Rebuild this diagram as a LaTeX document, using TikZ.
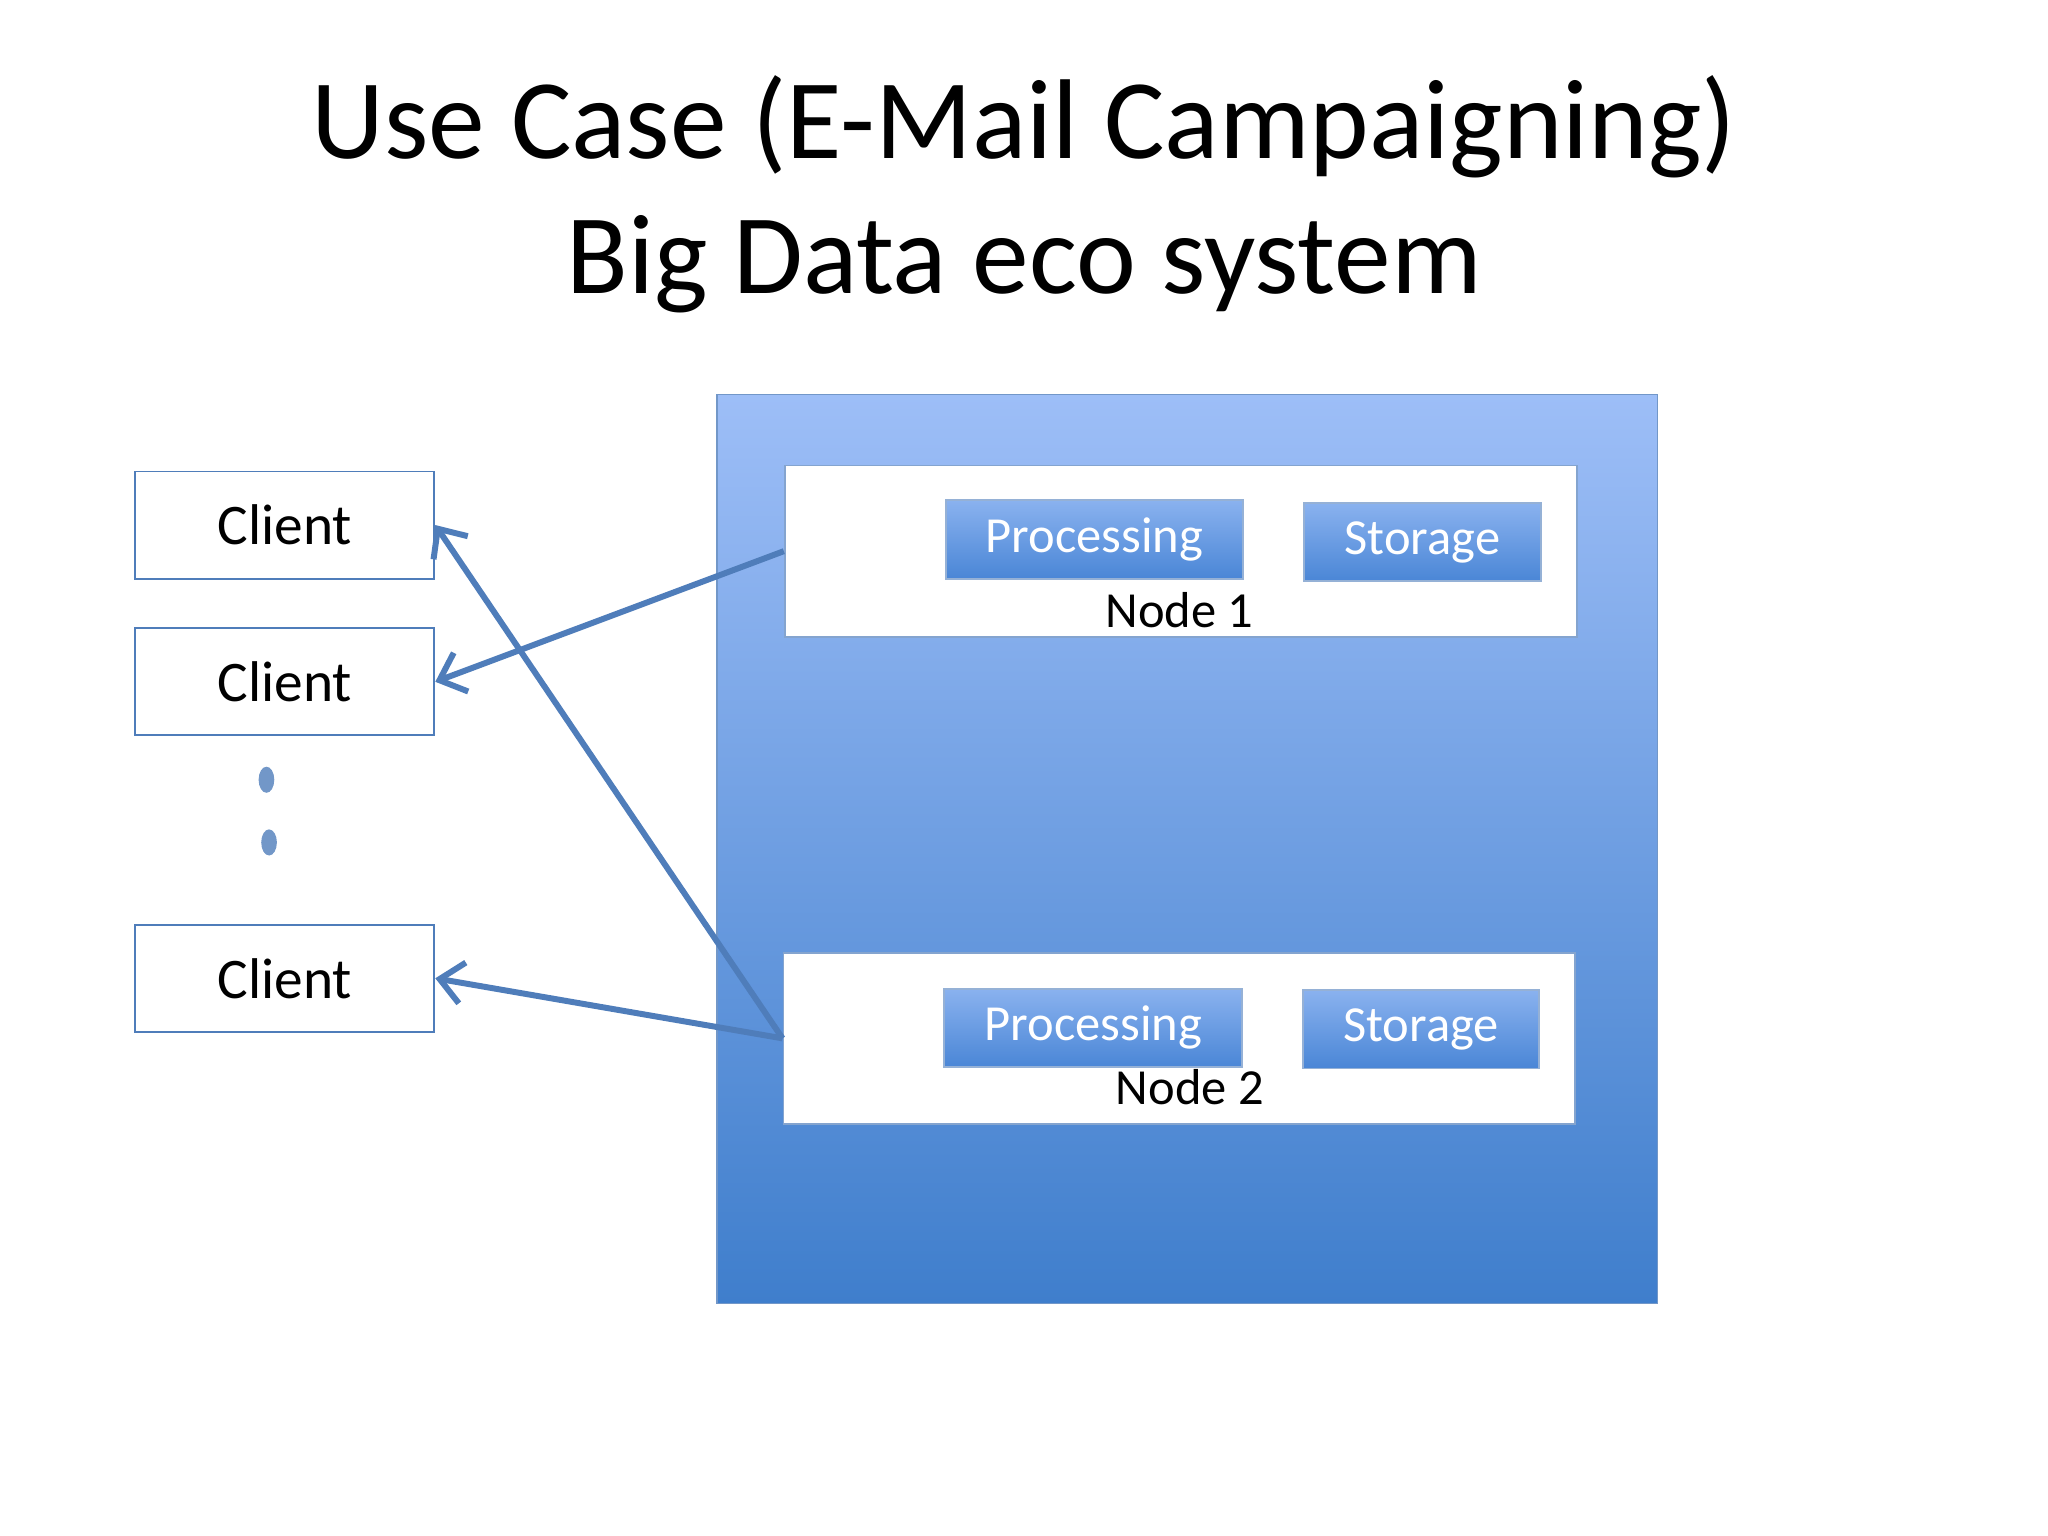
\documentclass[tikz,border=0pt]{standalone}
\usepackage{fontspec}
\setmainfont{Carlito}
\usetikzlibrary{positioning,arrows.meta}
\definecolor{edgeblue}{HTML}{4F7DBA}
\definecolor{boxtop}{HTML}{9DBEF7}
\definecolor{boxbot}{HTML}{3F7ECC}
\definecolor{btntop}{HTML}{8AB2EF}
\definecolor{btnbot}{HTML}{4A86D6}
\tikzset{
  client/.style={draw=edgeblue, fill=white, minimum width=2.29cm, minimum height=0.82cm, font=\fontsize{12.5}{12.5}\selectfont},
  host/.style={draw=edgeblue!70, fill=white, minimum width=6.06cm, minimum height=1.31cm},
  part/.style={draw=edgeblue!60, top color=btntop, bottom color=btnbot, text=white, minimum height=0.6cm, font=\fontsize{11}{11}\selectfont},
  link/.style={edgeblue, line width=1.3pt, -{Straight Barb[length=5pt,width=9pt]}}
}
\begin{document}
\begin{tikzpicture}[x=0.01cm, y=-0.01cm]
\useasboundingbox (0,0) rectangle (1568,1176);
% Title
\node (title1) at (784,97) {\fontsize{24.7}{24.7}\selectfont Use Case (E-Mail Campaigning)};
\node (title2) at (784,202) {\fontsize{24.7}{24.7}\selectfont Big Data eco system};

% Cluster background
\shade[top color=boxtop, bottom color=boxbot, draw=edgeblue!80] (549,302) rectangle (1269,998);

% Node 1
\node[host] (host1) at (904,422) {};
\node[part, minimum width=2.27cm] (proc1) at (838,413) {Processing};
\node[part, minimum width=1.81cm] (stor1) at (1089,415) {Storage};
\node (lab1) at (903,467) {\fontsize{11}{11}\selectfont Node 1};

% Node 2
\node[host] (host2) at (903,795) {};
\node[part, minimum width=2.28cm] (proc2) at (837,787) {Processing};
\node[part, minimum width=1.81cm] (stor2) at (1088,788) {Storage};
\node (lab2) at (911,832) {\fontsize{11}{11}\selectfont Node 2};

% Clients
\node[client] (cl1) at (218,402) {Client};
\node[client] (cl2) at (218,522) {Client};
\node[client] (cl3) at (218,749) {Client};
\fill[edgeblue!80] (204,597) ellipse (6 and 10);
\fill[edgeblue!80] (206,645) ellipse (6 and 10);

% Connections
\draw[link] (host1.west) -- (cl2.east);
\draw[link] (host2.west) -- (cl1.east);
\draw[link] (host2.west) -- (cl3.east);
\end{tikzpicture}
\end{document}
